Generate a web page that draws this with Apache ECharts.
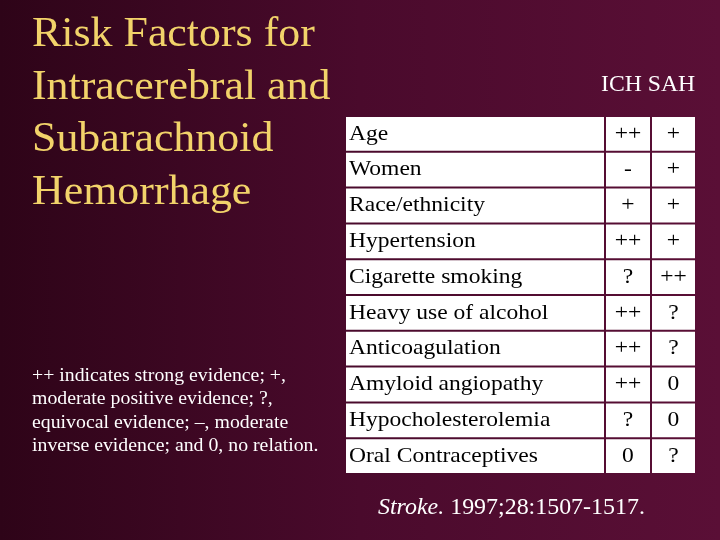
<!DOCTYPE html>
<html><head><meta charset="utf-8">
<script src="https://cdn.jsdelivr.net/npm/echarts@6/dist/echarts.min.js"></script>
<style>html,body{margin:0;padding:0}#c{width:720px;height:540px}</style>
</head><body><div id="c"></div>
<script>
var factors = ['Age','Women','Race/ethnicity','Hypertension','Cigarette smoking','Heavy use of alcohol','Anticoagulation','Amyloid angiopathy','Hypocholesterolemia','Oral Contraceptives'];
var ich = ['++','-','+','++','?','++','++','++','?','0'];
var sah = ['+','+','+','+','++','?','?','0','0','?'];
var columns = ['factor','ICH','SAH'];
var titleLines = ['Risk Factors for','Intracerebral and','Subarachnoid','Hemorrhage'];
var noteLines = ['++ indicates strong evidence; +,','moderate positive evidence; ?,','equivocal evidence; \u2013, moderate','inverse evidence; and 0, no relation.'];

// column edges in pixels (layout only)
var colX = [345, 605, 651, 696];

var cells = [];
for (var i = 0; i < factors.length; i++) {
    cells.push([0, i, factors[i]]);
    cells.push([1, i, ich[i]]);
    cells.push([2, i, sah[i]]);
}

var myChart = echarts.init(document.getElementById('c'));
var serif = '"Liberation Serif","Times New Roman",serif';
var graphics = [];
titleLines.forEach(function (t, k) {
    graphics.push({type:'text', x:32, y:14 + k*52.5, scaleX:1.045, style:{text:t, fill:'#f2d36a', font:'42px ' + serif}});
});
noteLines.forEach(function (t, k) {
    graphics.push({type:'text', x:32, y:367 + k*23.5, scaleX:1.1, style:{text:t, fill:'#ffffff', font:'18px ' + serif}});
});
graphics.push({type:'text', x:601, y:73, scaleX:1.03, style:{text:'ICH SAH', fill:'#ffffff', font:'23px ' + serif}});
graphics.push({type:'text', x:378, y:496, scaleX:1.04, style:{
    text:'{i|Stroke.} 1997;28:1507-1517.', fill:'#ffffff', font:'23px ' + serif,
    rich:{i:{fontStyle:'italic', fontSize:23, fontFamily:serif, fill:'#ffffff'}}}});

var option = {
    backgroundColor: {type:'linear', x:0, y:0, x2:1, y2:0, colorStops:[
        {offset:0, color:'#2e0418'}, {offset:0.5, color:'#4a0a2c'}, {offset:1, color:'#5a0f36'}]},
    grid: {left:345, right:24, top:116, bottom:66},
    xAxis: {type:'category', data:columns, show:false},
    yAxis: {type:'category', data:factors, inverse:true, show:false},
    graphic: graphics,
    series: [{
        type:'custom',
        data: cells,
        renderItem: function (params, api) {
            var c = api.value(0);
            var p = api.coord([c, api.value(1)]);
            var h = api.size([0, 1])[1];
            var x0 = colX[c], x1 = colX[c+1];
            var txt = api.value(2);
            return {type:'group', children:[
                {type:'rect', shape:{x:x0+1, y:p[1]-h/2+1, width:x1-x0-2, height:h-2}, style:{fill:'#ffffff'}},
                {type:'text', x: c===0 ? x0+4 : (x0+x1)/2, y:p[1], scaleX:1.07,
                    style:{text:txt, x:0, y:0,
                    textAlign: c===0 ? 'left' : 'center', textVerticalAlign:'middle',
                    fill:'#000000', font:'22px ' + serif}}
            ]};
        }
    }]
};
myChart.setOption(option);
</script></body></html>
